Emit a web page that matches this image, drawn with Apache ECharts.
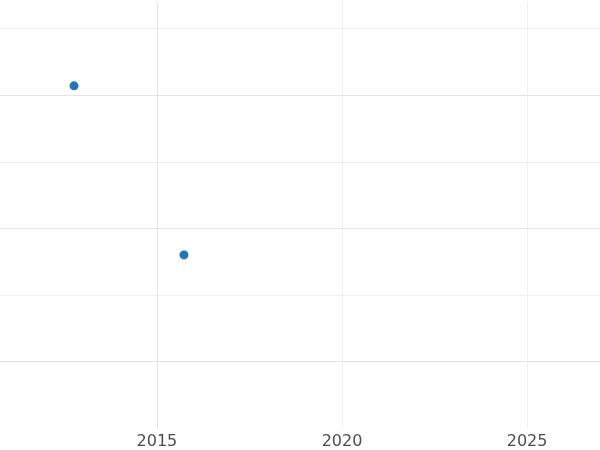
<!DOCTYPE html>
<html><head><meta charset="utf-8">
<script src="https://cdn.jsdelivr.net/npm/echarts@6/dist/echarts.min.js"></script>
<style>html,body{margin:0;padding:0;background:#fff}#c{width:600px;height:450px}</style>
</head><body><div id="c"></div>
<script>
const xValues = [2012.76, 2015.73];
const yValues = [2.07, 0.80];
const xTicks = [2015, 2020, 2025];
const yTicks = [0, 0.5, 1, 1.5, 2, 2.5];
const chart = echarts.init(document.getElementById('c'));
chart.setOption({
  animation: false,
  grid: {left: 0, right: 0, top: 2, bottom: 22},
  xAxis: {type: 'value', min: 2010.76, max: 2026.97,
    axisLine: {show: false},
    axisTick: {show: false, customValues: xTicks},
    axisLabel: {customValues: xTicks, formatter: v => String(v), color: '#4d4d4d', fontSize: 16, margin: 6, fontFamily: 'DejaVu Sans'},
    splitLine: {show: true, lineStyle: {color: ['#e3e3e3', '#efefef', '#efefef'], width: 1}}},
  yAxis: {type: 'value', min: -0.5, max: 2.7,
    axisLine: {show: false},
    axisTick: {show: false, customValues: yTicks},
    axisLabel: {show: false, customValues: yTicks},
    splitLine: {show: true, lineStyle: {color: ['#e3e3e3', '#efefef', '#e3e3e3', '#efefef', '#e3e3e3', '#efefef'], width: 1}}},
  series: [{type: 'scatter', symbolSize: 9, itemStyle: {color: '#1f77b4', opacity: 1},
    data: xValues.map((x, i) => [x, yValues[i]])}]
});
</script></body></html>
